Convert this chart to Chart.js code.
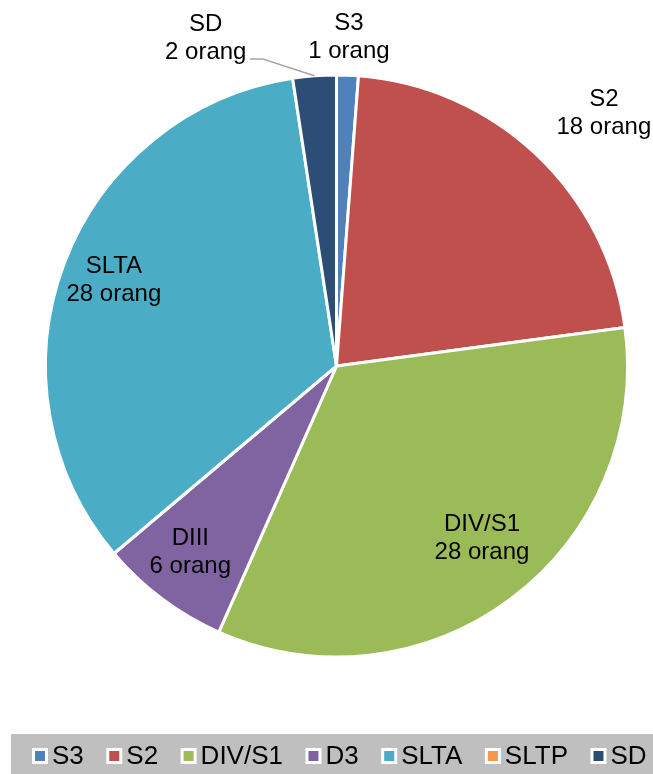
<!DOCTYPE html>
<html>
<head>
<meta charset="utf-8">
<script src="https://cdn.jsdelivr.net/npm/chart.js@4/dist/chart.umd.min.js"></script>
<style>
  html, body { margin: 0; padding: 0; background: #fff; }
  #wrap { width: 653px; height: 774px; }
</style>
</head>
<body>
<div id="wrap"><canvas id="pendidikanChart"></canvas></div>
<script>
// data pendidikan
const categories = ['S3', 'S2', 'DIV/S1', 'D3', 'SLTA', 'SLTP', 'SD'];
const sliceNames = ['S3', 'S2', 'DIV/S1', 'DIII', 'SLTA', 'SLTP', 'SD'];
const counts = [1, 18, 28, 6, 28, 0, 2];
const unit = 'orang';
const colors = ['#4f81bd', '#c0504d', '#9bbb59', '#8064a2', '#4bacc6', '#f79646', '#2c4d75'];

const FONT = '"Liberation Sans", Arial, sans-serif';

// label di atas / di luar irisan
const sliceLabels = {
    id: 'sliceLabels',
    afterDatasetsDraw(chart, args, opts) {
        const ctx = chart.ctx;
        const meta = chart.getDatasetMeta(0);
        ctx.save();
        ctx.font = '24px ' + FONT;
        ctx.fillStyle = '#000';
        ctx.textAlign = 'center';
        ctx.textBaseline = 'middle';
        meta.data.forEach((arc, i) => {
            if (!counts[i]) return;
            const p = opts.place[i];
            const mid = (arc.startAngle + arc.endAngle) / 2;
            const a = mid + p.da * Math.PI / 180;
            const r = arc.outerRadius * p.r;
            const x = arc.x + r * Math.cos(a);
            const y = arc.y + r * Math.sin(a);
            ctx.fillText(sliceNames[i], x, y - 14);
            ctx.fillText(counts[i] + ' ' + unit, x, y + 14);
            if (p.leader) {
                ctx.strokeStyle = '#a6a6a6';
                ctx.lineWidth = 1.5;
                ctx.beginPath();
                ctx.moveTo(x + 44, y + 21);
                ctx.lineTo(x + 57, y + 21);
                ctx.lineTo(arc.x + arc.outerRadius * Math.cos(mid), arc.y + arc.outerRadius * Math.sin(mid));
                ctx.stroke();
            }
        });
        ctx.restore();
    }
};

// legenda abu-abu di bawah
const grayLegend = {
    id: 'grayLegend',
    afterDraw(chart) {
        const ctx = chart.ctx;
        const ds = chart.data.datasets[0];
        ctx.save();
        ctx.fillStyle = '#bfbfbf';
        ctx.fillRect(11, 734, chart.width - 11, chart.height - 734);
        ctx.font = '26px ' + FONT;
        ctx.textBaseline = 'middle';
        ctx.textAlign = 'left';
        let x = 32;
        const cy = 756;
        chart.data.labels.forEach((lbl, i) => {
            ctx.fillStyle = '#fff';
            ctx.fillRect(x, cy - 8, 16, 16);
            ctx.fillStyle = ds.backgroundColor[i];
            ctx.fillRect(x + 3, cy - 5, 10, 10);
            ctx.fillStyle = '#000';
            ctx.fillText(lbl, x + 20, cy + 1);
            x += 20 + ctx.measureText(lbl).width + 22.5;
        });
        ctx.restore();
    }
};

new Chart(document.getElementById('pendidikanChart'), {
    type: 'pie',
    data: {
        labels: categories,
        datasets: [{
            data: counts,
            backgroundColor: colors,
            borderColor: '#fff',
            borderWidth: 3
        }]
    },
    options: {
        responsive: true,
        maintainAspectRatio: false,
        animation: false,
        layout: { padding: { top: 2, left: 44, right: 24, bottom: 44 } },
        plugins: {
            legend: { display: false },
            tooltip: { enabled: false },
            sliceLabels: {
                place: [
                    { r: 1.13, da: 0 },
                    { r: 1.263, da: 3.3 },
                    { r: 0.775, da: -3.3 },
                    { r: 0.813, da: 1.3 },
                    { r: 0.82, da: 0.5 },
                    { r: 1, da: 0 },
                    { r: 1.213, da: -17.4, leader: true }
                ]
            }
        }
    },
    plugins: [sliceLabels, grayLegend]
});
</script>
</body>
</html>
